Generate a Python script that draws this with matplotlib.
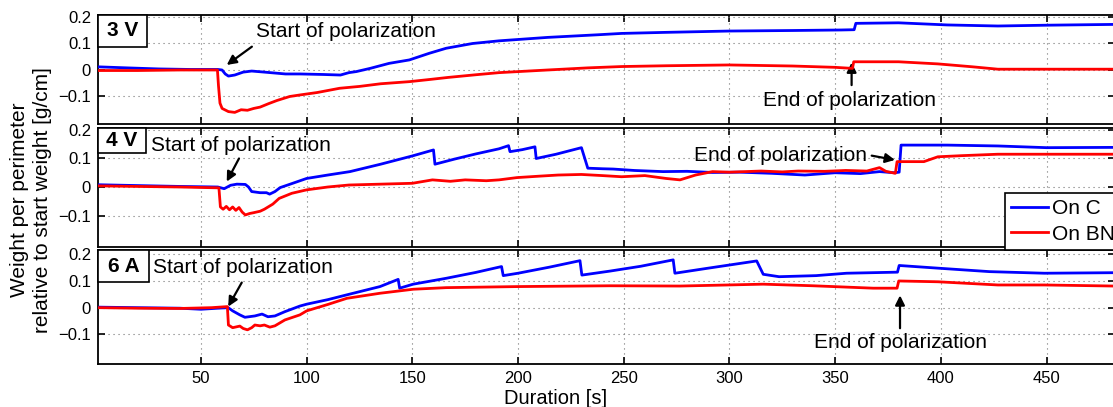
import matplotlib
matplotlib.use("Agg")
import matplotlib.pyplot as plt
from matplotlib.patches import Rectangle

plt.rcParams['font.family'] = ['Liberation Sans', 'DejaVu Sans']

# ---------------- data ----------------
panel_labels = ["3 V", "4 V", "6 A"]
series_names = ["On C", "On BN"]

# 3 V
c3_t = [1, 15, 30, 45, 58, 60, 61.5, 63, 66, 70, 74, 80, 90, 97, 108, 116, 120, 123.5, 130, 139,
        148.6, 158, 166, 178.5, 191, 214, 238, 249, 270, 300, 330, 353, 359.0, 359.8, 380, 403, 427, 450, 482]
c3_v = [0.012, 0.008, 0.004, 0.002, 0.002, 0.0, -0.015, -0.023, -0.019, -0.008, -0.004, -0.008, -0.015, -0.015, -0.017, -0.019, -0.010, -0.006, 0.006, 0.025,
        0.038, 0.063, 0.082, 0.100, 0.110, 0.123, 0.133, 0.138, 0.142, 0.147, 0.149, 0.151, 0.152, 0.176, 0.178, 0.170, 0.166, 0.169, 0.172]
b3_t = [1, 20, 40, 57.8, 58.3, 59, 60, 63, 66, 69, 72, 75, 78, 82, 86, 92, 97, 105, 115.6, 125,
        135, 148.6, 158, 167, 180, 191, 214, 233, 249, 270, 300, 330, 350, 358.2, 358.8, 380, 398.6, 415, 427, 450, 482]
b3_v = [-0.002, -0.002, 0.0, 0.0, -0.06, -0.125, -0.145, -0.157, -0.16, -0.15, -0.152, -0.145, -0.14, -0.127, -0.115, -0.10, -0.094, -0.085, -0.069, -0.062,
        -0.052, -0.044, -0.036, -0.028, -0.018, -0.01, 0.0, 0.008, 0.013, 0.016, 0.019, 0.015, 0.01, 0.006, 0.031, 0.031, 0.023, 0.012, 0.003, 0.003, 0.003]

# 4 V
c4_t = [1, 20, 40, 58, 61, 64, 67, 71, 72.5, 74, 78, 81, 82.5, 85, 87.5, 93, 100, 110, 120.5, 135,
        150, 160, 160.7, 170, 180, 191, 195.5, 196.2, 202, 208, 208.6, 218, 230, 233, 240, 245, 255, 268.6, 280, 292,
        305, 320, 335.7, 350, 362, 371, 378, 380.3, 381.2, 403, 427, 450, 482]
c4_v = [0.008, 0.005, 0.002, 0.0, -0.006, 0.006, 0.01, 0.009, 0.0, -0.016, -0.02, -0.02, -0.025, -0.016, -0.002, 0.012, 0.03, 0.042, 0.054, 0.08,
        0.109, 0.13, 0.08, 0.098, 0.116, 0.134, 0.145, 0.124, 0.131, 0.141, 0.1, 0.115, 0.138, 0.066, 0.064, 0.063, 0.058, 0.054, 0.055, 0.051,
        0.052, 0.048, 0.042, 0.05, 0.047, 0.054, 0.05, 0.052, 0.147, 0.147, 0.144, 0.138, 0.139]
b4_t = [1, 20, 40, 58.5, 59.2, 60.5, 62, 63.5, 65, 66.5, 68, 69.5, 71, 73, 75, 78, 80, 84, 87, 93,
        100, 110, 120, 135, 150, 159.5, 168, 175, 185, 191, 199.5, 210, 219, 230, 240, 249, 260, 270, 276.6, 284,
        292, 300, 315, 325, 332.5, 345, 355, 365, 371, 374, 378.5, 379.3, 392, 398.6, 410, 427, 450, 482]
b4_v = [0.004, 0.002, 0.0, -0.003, -0.07, -0.078, -0.068, -0.08, -0.07, -0.082, -0.072, -0.088, -0.098, -0.093, -0.09, -0.085, -0.078, -0.06, -0.04, -0.022,
        -0.01, 0.0, 0.007, 0.01, 0.013, 0.025, 0.02, 0.025, 0.022, 0.025, 0.033, 0.038, 0.042, 0.044, 0.04, 0.036, 0.04, 0.03, 0.025, 0.042,
        0.054, 0.052, 0.056, 0.053, 0.056, 0.055, 0.058, 0.056, 0.068, 0.055, 0.048, 0.089, 0.089, 0.106, 0.11, 0.115, 0.115, 0.115]

# 6 A
c6_t = [1, 20, 40, 50, 58, 62.9, 65, 68.4, 70.8, 75.5, 78.9, 81.7, 85, 89.7, 96.8, 100, 110, 119, 134.7, 143.3,
        144, 150.4, 166, 180, 192.2, 193, 200, 215, 229.3, 230.2, 243.5, 258, 273.4, 274.2, 290, 312.9, 316, 323.5, 341, 355.4,
        379.5, 380.3, 398.6, 423, 449, 482]
c6_v = [0.002, 0.0, -0.002, -0.006, -0.002, 0.0, -0.012, -0.027, -0.036, -0.031, -0.024, -0.034, -0.031, -0.015, 0.006, 0.013, 0.03, 0.048, 0.079, 0.106,
        0.073, 0.088, 0.11, 0.132, 0.154, 0.12, 0.129, 0.152, 0.176, 0.122, 0.137, 0.155, 0.179, 0.129, 0.148, 0.175, 0.125, 0.116, 0.12, 0.129,
        0.133, 0.158, 0.148, 0.135, 0.129, 0.131]
b6_t = [1, 20, 40, 55, 62.5, 63, 65, 68.4, 70, 72, 74, 75.5, 78, 80, 82.6, 85, 89.7, 96.8, 100, 110,
        119, 134.7, 150.4, 166, 200, 243.5, 276.6, 316, 339.6, 368, 379.3, 380.1, 398.6, 427, 449, 482]
b6_v = [0.0, -0.002, -0.003, 0.0, 0.004, -0.065, -0.075, -0.069, -0.078, -0.083, -0.075, -0.065, -0.068, -0.065, -0.073, -0.068, -0.046, -0.027, -0.012, 0.012,
        0.035, 0.054, 0.069, 0.075, 0.079, 0.082, 0.081, 0.088, 0.082, 0.073, 0.073, 0.1, 0.097, 0.085, 0.085, 0.081]

x_ticks = [50, 100, 150, 200, 250, 300, 350, 400, 450]
y_ticks = [-0.1, 0, 0.1, 0.2]
y_ticklabels = ["\u22120.1", "0", "0.1", "0.2"]

# ---------------- figure ----------------
W, H = 1113, 407
fig = plt.figure(figsize=(W / 100, H / 100), dpi=100)

def fx(px):
    return px / W

def fy(py):
    return 1 - py / H

left_px, right_px = 98, 1115
panels_px = [(15, 124), (128, 247), (250, 364)]
ylims = [(-0.2038, 0.2075), (-0.2105, 0.207), (-0.211, 0.216)]
xlim = (1.3, 482.4)

data = [(c3_t, c3_v, b3_t, b3_v), (c4_t, c4_v, b4_t, b4_v), (c6_t, c6_v, b6_t, b6_v)]
axes = []
lines = []
for i, ((top, bot), yl, (ct, cv, bt, bv)) in enumerate(zip(panels_px, ylims, data)):
    ax = fig.add_axes([fx(left_px), fy(bot), fx(right_px - left_px), (bot - top) / H])
    l1, = ax.plot(ct, cv, color=(0, 0, 1), lw=2.0, zorder=3)
    l2, = ax.plot(bt, bv, color=(1, 0, 0), lw=2.0, zorder=4)
    lines = [l1, l2]
    ax.set_xlim(*xlim)
    ax.set_ylim(*yl)
    ax.set_xticks(x_ticks)
    ax.set_yticks(y_ticks)
    ax.set_yticklabels(y_ticklabels)
    if i < 2:
        ax.set_xticklabels([])
    ax.grid(True, linestyle=(0, (1, 3.5)), color='0.45', lw=0.8)
    ax.set_axisbelow(True)
    ax.tick_params(direction='in', top=True, right=True, length=5, width=1.2,
                   labelsize=12, pad=5)
    for sp in ax.spines.values():
        sp.set_linewidth(1.3)
    axes.append(ax)

arrow = dict(arrowstyle='-|>', color='k', lw=1.6, mutation_scale=14, shrinkA=0, shrinkB=0)
fs = 15

# panel 1
a = axes[0]
a.text(76, 0.147, "Start of polarization", fontsize=fs, ha='left', va='center')
a.annotate("", xy=(62.2, 0.019), xytext=(74.1, 0.088), arrowprops=arrow)
a.text(357, -0.117, "End of polarization", fontsize=fs, ha='center', va='center')
a.annotate("", xy=(357.8, 0.028), xytext=(357.8, -0.057), arrowprops=arrow)

# panel 2
a = axes[1]
a.text(26.3, 0.147, "Start of polarization", fontsize=fs, ha='left', va='center')
a.annotate("", xy=(62.2, 0.019), xytext=(68, 0.1), arrowprops=arrow)
a.text(365, 0.112, "End of polarization", fontsize=fs, ha='right', va='center')
a.annotate("", xy=(378.3, 0.095), xytext=(367.3, 0.11), arrowprops=arrow)

# panel 3
a = axes[2]
a.text(27.3, 0.151, "Start of polarization", fontsize=fs, ha='left', va='center')
a.annotate("", xy=(62.9, 0.004), xytext=(69.3, 0.094), arrowprops=arrow)
a.text(380.7, -0.132, "End of polarization", fontsize=fs, ha='center', va='center')
a.annotate("", xy=(380.7, 0.046), xytext=(380.7, -0.077), arrowprops=arrow)

# label boxes
boxes_px = [(98, 15, 147, 47), (98, 128, 146, 153), (98, 250, 149, 282)]
for (x0, y0, x1, y1), lab in zip(boxes_px, panel_labels):
    fig.patches.append(Rectangle((fx(x0), fy(y1)), fx(x1 - x0), (y1 - y0) / H,
                                 transform=fig.transFigure, facecolor='white',
                                 edgecolor='black', lw=1.2, zorder=5))
    fig.text(fx((x0 + x1) / 2), fy((y0 + y1) / 2), lab, fontsize=fs, fontweight='bold',
             ha='center', va='center', zorder=6)

# axis labels
fig.text(fx(31), fy(200), "Weight per perimeter\nrelative to start weight [g/cm]",
         rotation=90, ha='center', va='center', multialignment='center', fontsize=fs,
         linespacing=1.3)
fig.text(fx(556), fy(398), "Duration [s]", ha='center', va='center', fontsize=14.5)

# legend
leg = fig.legend(lines, series_names, loc='upper left',
                 bbox_to_anchor=(fx(1005), fy(193)), bbox_transform=fig.transFigure,
                 fontsize=fs, frameon=True, fancybox=False, framealpha=1,
                 edgecolor='black', borderpad=0.3, labelspacing=0.3,
                 handlelength=1.75, handletextpad=0.2, borderaxespad=0)
leg.get_frame().set_linewidth(1.2)
leg.set_zorder(7)

fig.savefig("out.png", dpi=100)
